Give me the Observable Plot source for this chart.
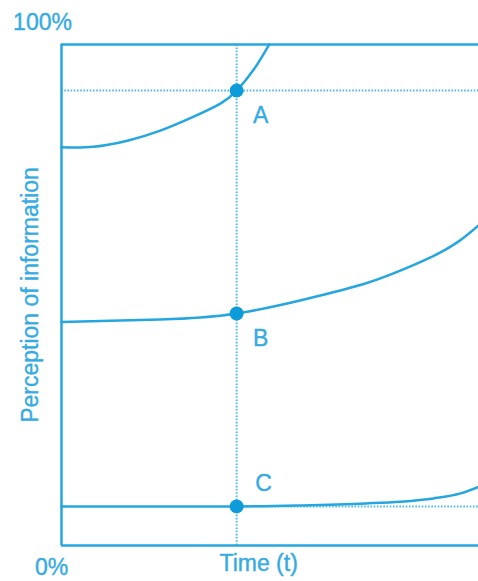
<!DOCTYPE html>
<html>
<head>
<meta charset="utf-8">
<script src="https://cdn.jsdelivr.net/npm/d3@7"></script>
<script src="https://cdn.jsdelivr.net/npm/@observablehq/plot@0.6"></script>
<style>
  body { margin: 0; background: #fff; }
  #chart svg { display: block; }
</style>
</head>
<body>
<div id="chart"></div>
<script>
// Moment in time where the three perception levels are compared
const momentTime = 42;

// Perception curves: time (0–100) and perception (0–100 %)
const timeA = [0, 7.7, 15.8, 23.7, 31.7, 38.1, 42, 46.1, 49.8];
const perceptionA = [79.5, 79.6, 80.8, 82.8, 85.6, 88.2, 90.8, 95.0, 100];

const timeB = [0, 23.7, 33.3, 42, 52.5, 62.1, 72.5, 80.5, 88.5, 94.9, 100];
const perceptionB = [44.6, 45.1, 45.5, 46.3, 48.0, 49.9, 52.2, 54.6, 57.5, 60.5, 63.9];

const timeC = [0, 42, 57.3, 73, 81.3, 89.2, 95.7, 100];
const perceptionC = [7.8, 7.8, 8.0, 8.4, 8.75, 9.4, 10.4, 11.7];

// Marked points at the chosen moment
const pointLabels = ["A", "B", "C"];
const pointValues = [90.8, 46.3, 7.8];

// Axis texts
const yTickValues = [0, 100];
const yTickLabels = ["0%", "100%"];
const xLabel = "Time (t)";
const yLabel = "Perception of information";

const toRows = (ts, vs) => ts.map((t, i) => ({t, v: vs[i]}));
const curves = [
  {rows: toRows(timeA, perceptionA), curve: "natural"},
  {rows: toRows(timeB, perceptionB), curve: "natural"},
  {rows: toRows(timeC, perceptionC), curve: "monotone-x"}
];
const points = pointLabels.map((label, i) => ({label, t: momentTime, v: pointValues[i]}));
const yTicks = yTickValues.map((v, i) => ({v, label: yTickLabels[i]}));

const blue = "#25a6df";
const textBlue = "#35abe2";
const dotted = "#52bbe8";
const font = "'Liberation Sans', Arial, sans-serif";
const fs = 23;
const textStyle = {fill: textBlue, stroke: textBlue, strokeWidth: 0.4, fontSize: fs};

const chart = Plot.plot({
  width: 478,
  height: 581,
  marginLeft: 61,
  marginTop: 44,
  marginBottom: 36,
  marginRight: 0,
  x: {domain: [0, 100], axis: null},
  y: {domain: [0, 100], axis: null},
  style: {fontFamily: font, fontSize: fs + "px", color: blue, background: "#fff"},
  marks: [
    // dotted guides
    Plot.ruleY([pointValues[0]], {y: d => d, x1: 0, x2: 100, stroke: dotted, strokeWidth: 2, strokeDasharray: "1.6,1.6"}),
    Plot.ruleY([pointValues[2]], {y: d => d, x1: momentTime, x2: 100, stroke: dotted, strokeWidth: 2, strokeDasharray: "1.6,1.6"}),
    Plot.ruleX([momentTime], {x: d => d, y1: 0, y2: 100, stroke: dotted, strokeWidth: 2, strokeDasharray: "1.6,1.6"}),
    // frame: left, bottom and top edges
    Plot.ruleX([0], {x: d => d, y1: 0, y2: 100, stroke: blue, strokeWidth: 2.5}),
    Plot.ruleY([0, 100], {y: d => d, stroke: blue, strokeWidth: 2.5}),
    // perception curves
    ...curves.map(c => Plot.line(c.rows, {x: "t", y: "v", curve: c.curve, stroke: blue, strokeWidth: 2.5})),
    // marked points
    Plot.dot(points, {x: "t", y: "v", r: 7, fill: "#0d9bd9", stroke: "none"}),
    Plot.text(points.filter(d => d.label !== "C"), {x: "t", y: "v", text: "label", dx: 24, dy: 25, ...textStyle}),
    Plot.text(points.filter(d => d.label === "C"), {x: "t", y: "v", text: "label", dx: 27, dy: -23, ...textStyle}),
    // y tick labels at the corners
    Plot.text(yTicks.filter(d => d.v === 100), {y: "v", text: "label", frameAnchor: "left", dx: -19, dy: -22, textAnchor: "middle", ...textStyle}),
    Plot.text(yTicks.filter(d => d.v === 0), {y: "v", text: "label", frameAnchor: "left", dx: -10, dy: 22, textAnchor: "middle", ...textStyle}),
    // axis titles
    Plot.text([xLabel], {x: momentTime, text: d => d, frameAnchor: "bottom", dx: 22, dy: 25, textAnchor: "middle", ...textStyle}),
    Plot.text([yLabel], {text: d => d, frameAnchor: "left", dx: -31, rotate: -90, textAnchor: "middle", ...textStyle})
  ]
});

document.getElementById("chart").append(chart);
</script>
</body>
</html>
